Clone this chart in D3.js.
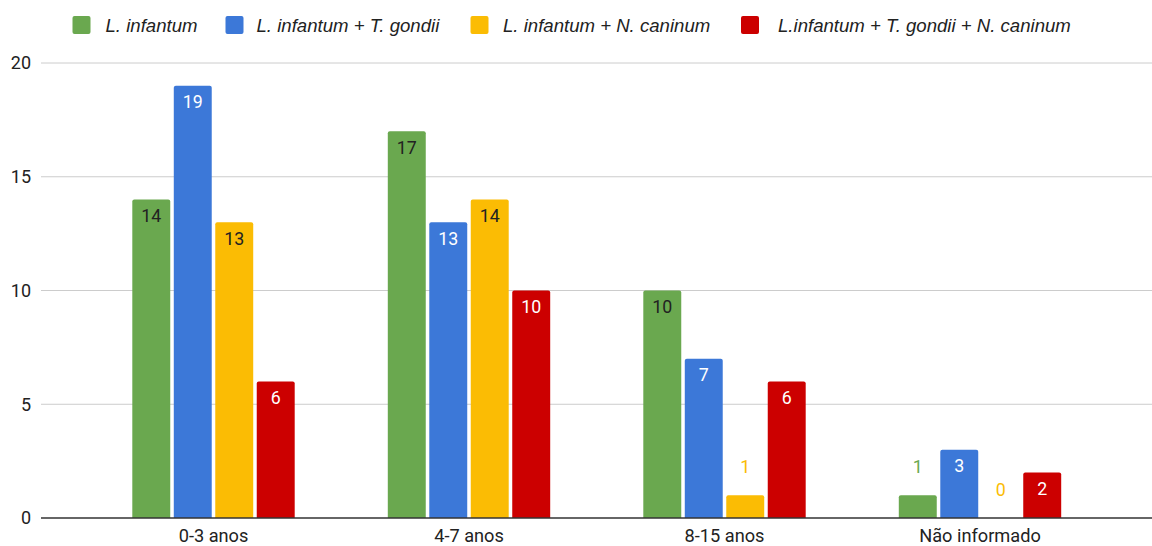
<!DOCTYPE html>
<html>
<head>
<meta charset="utf-8">
<script src="https://cdn.jsdelivr.net/npm/d3@7"></script>
<style>
  html, body { margin: 0; padding: 0; background: #fff; }
  svg { display: block; }
</style>
</head>
<body>
<svg id="chart" width="1152" height="546"></svg>
<script>
// Age groups on the x axis
const categories = ["0-3 anos", "4-7 anos", "8-15 anos", "Não informado"];

// Infection combinations (legend order)
const seriesNames = [
  "L. infantum",
  "L. infantum + T. gondii",
  "L. infantum + N. caninum",
  "L.infantum + T. gondii + N. caninum"
];

// Counts per age group, one array per series
const lInfantum         = [14, 17, 10, 1];
const lInfantumTGondii  = [19, 13, 7, 3];
const lInfantumNCaninum = [13, 14, 1, 0];
const lInfantumAll      = [6, 10, 6, 2];

const yTicks = [0, 5, 10, 15, 20];

const seriesValues = [lInfantum, lInfantumTGondii, lInfantumNCaninum, lInfantumAll];
const colors = ["#6aa84f", "#3c78d8", "#fbbc04", "#cc0000"];
const insideLabelColors = ["#222222", "#ffffff", "#222222", "#ffffff"];

const svg = d3.select("#chart");
const W = 1152;

const y = d3.scaleLinear().domain([0, 20]).range([518, 63]);
const x = d3.scaleBand().domain(categories).range([85.75, 1107.75]).padding(0);
const inner = d3.scaleBand().domain(d3.range(seriesNames.length))
  .range([-81.2, 81.2]).paddingInner(0.085);

const numFont = "Roboto, 'Noto Sans', sans-serif";
const legendFont = "'Liberation Sans', Arial, sans-serif";

// Horizontal gridlines
const grid = svg.append("g");
grid.selectAll("line").data(yTicks.filter(d => d !== 0)).join("line")
  .attr("x1", 41).attr("x2", W)
  .attr("y1", d => y(d)).attr("y2", d => y(d))
  .attr("stroke", "#cccccc").attr("stroke-width", 1);

// Y axis labels
const yAxis = d3.axisLeft(y).tickValues(yTicks).tickSize(0).tickPadding(0);
svg.append("g").attr("transform", "translate(31,0)").call(yAxis)
  .call(g => g.select(".domain").remove())
  .call(g => g.selectAll("text")
    .attr("font-family", numFont).attr("font-size", 18).attr("fill", "#222"));

// Bars
const groups = svg.append("g").selectAll("g").data(categories).join("g")
  .attr("transform", d => `translate(${x(d) + x.bandwidth() / 2},0)`);

const cells = groups.selectAll("g.cell")
  .data((c, ci) => seriesValues.map((vals, si) => ({ si, v: vals[ci] })))
  .join("g").attr("class", "cell");

cells.filter(d => d.v > 0).append("path")
  .attr("fill", d => colors[d.si])
  .attr("d", d => {
    const x0 = inner(d.si), w = inner.bandwidth();
    const top = y(d.v), bot = y(0), r = 2;
    return `M${x0},${bot}V${top + r}Q${x0},${top} ${x0 + r},${top}H${x0 + w - r}Q${x0 + w},${top} ${x0 + w},${top + r}V${bot}Z`;
  });

// Value labels: inside the bar when it is tall enough, above it otherwise
cells.append("text")
  .attr("x", d => inner(d.si) + inner.bandwidth() / 2)
  .attr("y", d => (y(0) - y(d.v) > 34) ? y(d.v) + 16.3 : y(d.v) - 28.5)
  .attr("dy", "0.35em")
  .attr("text-anchor", "middle")
  .attr("font-family", numFont).attr("font-size", 17.8)
  .attr("fill", d => (y(0) - y(d.v) > 34) ? insideLabelColors[d.si] : colors[d.si])
  .text(d => d.v);

// Baseline
svg.append("line").attr("x1", 41).attr("x2", W)
  .attr("y1", y(0)).attr("y2", y(0))
  .attr("stroke", "#333333").attr("stroke-width", 1.3);

// X axis labels
const xAxis = d3.axisBottom(x).tickSize(0).tickPadding(0);
svg.append("g").attr("transform", `translate(0,${y(0)})`).call(xAxis)
  .call(g => g.select(".domain").remove())
  .call(g => g.selectAll("text")
    .attr("y", 23.5).attr("dy", 0)
    .attr("font-family", numFont).attr("font-size", 18.2).attr("fill", "#222"));

// Legend
const legendX = [72.5, 225.5, 470.5, 741];
const legendTextX = [33, 31, 32.5, 37];
const legend = svg.append("g").selectAll("g").data(seriesNames).join("g")
  .attr("transform", (d, i) => `translate(${legendX[i]},16)`);
legend.append("rect").attr("width", 18).attr("height", 18).attr("rx", 2)
  .attr("fill", (d, i) => colors[i]);
legend.append("text").attr("x", (d, i) => legendTextX[i]).attr("y", 9).attr("dy", "0.35em")
  .attr("font-family", legendFont)
  .attr("font-style", "italic").attr("font-size", 18.6).attr("fill", "#222")
  .text(d => d);
</script>
</body>
</html>
